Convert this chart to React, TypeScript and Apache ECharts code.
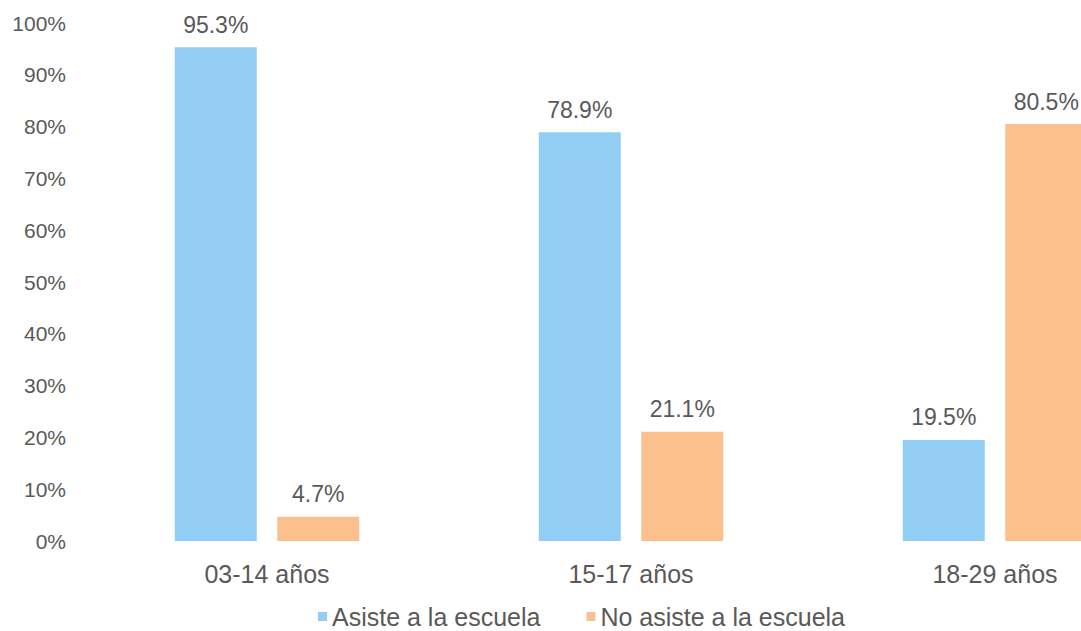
import React, { useEffect, useRef } from "react";
import * as echarts from "echarts";

const categories = ["03-14 años", "15-17 años", "18-29 años"];
const asiste = [95.3, 78.9, 19.5];
const noAsiste = [4.7, 21.1, 80.5];
const seriesNames = ["Asiste a la escuela", "No asiste a la escuela"];

const FONT = "'Liberation Sans', Arial, sans-serif";
const TXT = "#595959";

export default function App() {
  const ref = useRef<HTMLDivElement>(null);
  useEffect(() => {
    document.body.style.margin = "0";
    document.body.style.overflow = "hidden";
    document.documentElement.style.overflow = "hidden";
    const chart = echarts.init(ref.current!, null, { renderer: "svg" });
    const label = {
      show: true,
      position: "top",
      distance: 11,
      formatter: (p: any) => p.value.toFixed(1) + "%",
      color: TXT,
      fontSize: 23,
      fontFamily: FONT,
    };
    chart.setOption({
      animation: false,
      backgroundColor: "#ffffff",
      grid: { left: 85, right: 0, top: 23, bottom: 90, containLabel: false },
      legend: {
        left: 313,
        top: 599,
        itemWidth: 9,
        itemHeight: 9,
        itemGap: 46,
        icon: "rect",
        textStyle: { color: TXT, fontSize: 25, fontFamily: FONT },
        data: seriesNames,
      },
      xAxis: {
        type: "category",
        data: categories,
        axisLine: { show: false },
        axisTick: { show: false },
        axisLabel: { color: TXT, fontSize: 25, fontFamily: FONT, margin: 20 },
      },
      yAxis: {
        type: "value",
        min: 0,
        max: 100,
        interval: 10,
        splitLine: { show: false },
        axisLine: { show: false },
        axisTick: { show: false },
        axisLabel: {
          formatter: "{value}%",
          color: TXT,
          fontSize: 21,
          fontFamily: FONT,
          margin: 19,
        },
      },
      series: [
        {
          name: seriesNames[0],
          type: "bar",
          data: asiste,
          barWidth: 82,
          barGap: "25%",
          itemStyle: { color: "#92CDF4" },
          label,
        },
        {
          name: seriesNames[1],
          type: "bar",
          data: noAsiste,
          barWidth: 82,
          barGap: "25%",
          itemStyle: { color: "#FBC08E" },
          label,
        },
      ],
    });
    return () => chart.dispose();
  }, []);
  return (
    <div style={{ width: 1081, height: 631, overflow: "hidden" }}>
      <div ref={ref} style={{ width: 1177, height: 631 }} />
    </div>
  );
}
